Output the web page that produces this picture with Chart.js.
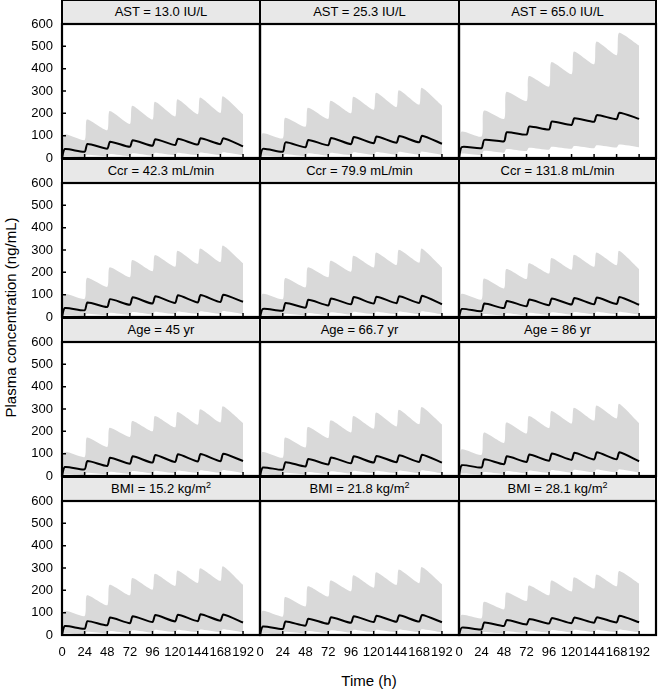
<!DOCTYPE html>
<html>
<head>
<meta charset="utf-8">
<script src="https://cdn.jsdelivr.net/npm/chart.js@4.4.0/dist/chart.umd.min.js"></script>
<style>
  body { margin: 0; background: #fff; }
  #wrap { position: relative; width: 658px; height: 691px; font-family: "Liberation Sans", Arial, sans-serif; color: #000; overflow: hidden; }
  .strip { position: absolute; box-sizing: border-box; height: 26px; border: 2px solid #000; background: #e8e8e8;
           font-size: 13px; line-height: 21px; text-align: center; white-space: nowrap; }
  .strip sup { font-size: 9px; line-height: 0; }
  canvas { position: absolute; }
  .ytitle { position: absolute; width: 400px; left: -190px; top: 309px; text-align: center; font-size: 15px;
            transform: rotate(-90deg); white-space: nowrap; }
  .xtitle { position: absolute; width: 200px; left: 269px; top: 672px; text-align: center; font-size: 15px; }
</style>
</head>
<body>
<div id="wrap">
  <div class="ytitle">Plasma concentration (ng/mL)</div>
  <div class="xtitle">Time (h)</div>
</div>
<script>
// panel order: row by row, left to right
const panelTitles = [
  'AST = 13.0 IU/L', 'AST = 25.3 IU/L', 'AST = 65.0 IU/L',
  'Ccr = 42.3 mL/min', 'Ccr = 79.9 mL/min', 'Ccr = 131.8 mL/min',
  'Age = 45 yr', 'Age = 66.7 yr', 'Age = 86 yr',
  'BMI = 15.2 kg/m<sup>2</sup>', 'BMI = 21.8 kg/m<sup>2</sup>', 'BMI = 28.1 kg/m<sup>2</sup>'
];

const doseTimes = [0, 24, 48, 72, 96, 120, 144, 168];
const xTicks = [0, 24, 48, 72, 96, 120, 144, 168, 192];
const yTicks = [0, 100, 200, 300, 400, 500, 600];

// peak after each dose, and value just before the next dose (last one = 192 h)
const upperPeaks = [
  [105, 172, 210, 234, 252, 263, 271, 277],
  [110, 180, 225, 256, 274, 292, 303, 314],
  [118, 212, 296, 367, 429, 477, 521, 560],
  [102, 175, 222, 255, 277, 297, 307, 320],
  [103, 174, 222, 252, 274, 289, 301, 307],
  [103, 172, 215, 241, 264, 279, 289, 297],
  [107, 172, 216, 246, 269, 287, 299, 312],
  [107, 172, 219, 249, 269, 284, 297, 309],
  [119, 194, 239, 269, 291, 306, 316, 324],
  [107, 178, 225, 255, 274, 289, 299, 308],
  [107, 170, 218, 244, 267, 281, 293, 304],
  [89, 148, 190, 222, 244, 259, 271, 286]
];
const upperTroughs = [
  [80, 124, 152, 172, 186, 196, 202, 196],
  [88, 140, 175, 200, 216, 228, 238, 234],
  [96, 175, 255, 320, 375, 420, 460, 503],
  [82, 135, 178, 205, 225, 238, 246, 240],
  [80, 133, 178, 203, 222, 233, 243, 222],
  [78, 128, 170, 195, 212, 225, 232, 215],
  [85, 130, 175, 200, 218, 230, 240, 237],
  [82, 128, 170, 195, 212, 222, 232, 231],
  [95, 148, 190, 215, 235, 248, 258, 237],
  [85, 133, 178, 203, 220, 233, 242, 225],
  [83, 128, 172, 196, 212, 224, 232, 227],
  [75, 115, 152, 178, 195, 208, 218, 230]
];
const medianPeaks = [
  [40, 63, 73, 80, 84, 86, 88, 88],
  [41, 70, 81, 90, 94, 96, 98, 100],
  [49, 81, 115, 141, 163, 178, 192, 203],
  [40, 65, 80, 88, 93, 97, 98, 100],
  [36, 63, 77, 83, 89, 91, 93, 95],
  [36, 60, 72, 78, 83, 85, 87, 90],
  [40, 67, 82, 88, 94, 97, 98, 100],
  [38, 62, 76, 83, 88, 90, 93, 95],
  [48, 75, 88, 96, 101, 104, 106, 106],
  [40, 62, 78, 84, 89, 91, 93, 92],
  [38, 60, 73, 80, 84, 86, 88, 90],
  [33, 56, 67, 72, 76, 78, 80, 86]
];
const medianTroughs = [
  [28, 42, 50, 55, 58, 60, 62, 52],
  [28, 48, 57, 62, 66, 68, 70, 64],
  [44, 75, 105, 128, 148, 162, 174, 175],
  [30, 45, 55, 60, 63, 65, 67, 68],
  [28, 42, 52, 57, 60, 62, 63, 57],
  [26, 40, 48, 53, 56, 57, 58, 55],
  [30, 45, 55, 60, 63, 65, 66, 67],
  [28, 43, 52, 57, 60, 62, 63, 60],
  [38, 53, 63, 68, 72, 74, 75, 66],
  [28, 44, 53, 58, 61, 62, 64, 56],
  [27, 42, 50, 55, 58, 59, 60, 57],
  [25, 40, 47, 51, 53, 55, 56, 57]
];
const lowerPeaks = [
  [8, 14, 18, 21, 23, 24, 25, 26],
  [10, 17, 21, 24, 26, 27, 28, 29],
  [20, 32, 40, 46, 50, 54, 57, 60],
  [9, 15, 19, 22, 24, 25, 26, 27],
  [8, 14, 18, 21, 23, 24, 25, 26],
  [7, 13, 17, 19, 21, 22, 23, 24],
  [9, 15, 19, 22, 24, 25, 26, 27],
  [8, 14, 18, 21, 23, 24, 25, 26],
  [11, 18, 22, 25, 27, 28, 29, 30],
  [8, 14, 18, 21, 23, 24, 25, 26],
  [8, 14, 18, 21, 23, 24, 25, 26],
  [7, 13, 17, 20, 22, 23, 24, 25]
];
const lowerTroughs = [
  [4, 7, 9, 11, 12, 13, 13, 12],
  [5, 9, 11, 13, 14, 15, 15, 14],
  [14, 24, 31, 37, 41, 44, 47, 48],
  [5, 8, 10, 12, 13, 14, 14, 13],
  [4, 7, 9, 11, 12, 13, 13, 12],
  [3, 6, 8, 10, 11, 12, 12, 11],
  [5, 8, 10, 12, 13, 14, 14, 13],
  [4, 7, 9, 11, 12, 13, 13, 12],
  [6, 10, 12, 14, 15, 16, 16, 15],
  [4, 7, 9, 11, 12, 13, 13, 12],
  [4, 7, 9, 11, 12, 13, 13, 12],
  [4, 7, 9, 11, 12, 13, 13, 12]
];

const colEdges = [62, 260, 459, 656];
const plotTops = [24, 183, 342, 501];
const plotH = 134;
const pad = 10;
const tickFont = { family: '"Liberation Sans", Arial, sans-serif', size: 13 };

function buildSeries(peaks, troughs, lag) {
  const pts = [{ x: 0, y: 0 }];
  doseTimes.forEach((t, k) => {
    pts.push({ x: t + lag, y: peaks[k] });
    pts.push({ x: t + 24, y: troughs[k] });
  });
  return pts;
}

const framePlugin = {
  id: 'frame',
  afterDraw(chart, args, opts) {
    const { ctx, chartArea: a, scales: { x, y } } = chart;
    ctx.save();
    ctx.strokeStyle = '#000';
    ctx.lineWidth = 1.5;
    ctx.beginPath();
    x.ticks.forEach(t => {
      const px = x.getPixelForValue(t.value);
      ctx.moveTo(px, a.bottom);
      ctx.lineTo(px, a.bottom - 4);
    });
    if (opts.yTicks) {
      y.ticks.forEach(t => {
        const py = y.getPixelForValue(t.value);
        ctx.moveTo(a.left, py);
        ctx.lineTo(a.left + 4, py);
      });
    }
    ctx.stroke();
    ctx.lineWidth = 2.2;
    ctx.strokeRect(a.left, a.top, a.width, a.height);
    ctx.restore();
  }
};

const wrap = document.getElementById('wrap');

panelTitles.forEach((title, i) => {
  const r = Math.floor(i / 3), c = i % 3;
  const left = colEdges[c], w = colEdges[c + 1] - colEdges[c];
  const bottomRow = r === 3, leftCol = c === 0;

  // strip header
  const strip = document.createElement('div');
  strip.className = 'strip';
  strip.style.left = (left - 1) + 'px';
  strip.style.top = (plotTops[r] - 25) + 'px';
  strip.style.width = (w + 2) + 'px';
  strip.innerHTML = title;
  wrap.appendChild(strip);

  const cv = document.createElement('canvas');
  const cl = leftCol ? 0 : left - pad;
  const cw = (leftCol ? left : pad) + w + pad;
  const ch = pad + plotH + (bottomRow ? 34 : pad);
  cv.width = cw; cv.height = ch;
  cv.style.left = cl + 'px';
  cv.style.top = (plotTops[r] - pad) + 'px';
  cv.style.width = cw + 'px';
  cv.style.height = ch + 'px';
  wrap.appendChild(cv);

  new Chart(cv, {
    type: 'line',
    data: {
      datasets: [{
        data: buildSeries(medianPeaks[i], medianTroughs[i], 3),
        borderColor: '#000',
        borderWidth: 2,
        pointRadius: 0,
        tension: 0.2,
        fill: false
      }, {
        data: buildSeries(upperPeaks[i], upperTroughs[i], 2.5),
        borderWidth: 0,
        borderColor: 'rgba(0,0,0,0)',
        backgroundColor: '#d9d9d9',
        pointRadius: 0,
        tension: 0.2,
        fill: '+1'
      }, {
        data: buildSeries(lowerPeaks[i], lowerTroughs[i], 2.5),
        borderWidth: 0,
        borderColor: 'rgba(0,0,0,0)',
        pointRadius: 0,
        tension: 0.2,
        fill: false
      }]
    },
    options: {
      responsive: false,
      animation: false,
      events: [],
      layout: { padding: { left: leftCol ? 0 : pad, right: pad, top: pad, bottom: bottomRow ? 0 : pad } },
      plugins: { legend: { display: false }, tooltip: { enabled: false }, frame: { yTicks: leftCol } },
      scales: {
        x: {
          type: 'linear', min: 0, max: 210,
          afterBuildTicks: s => { s.ticks = xTicks.map(v => ({ value: v })); },
          afterFit: s => { s.height = bottomRow ? 34 : 0; },
          grid: { display: false, drawTicks: true, tickLength: 10 },
          border: { display: false },
          ticks: { display: bottomRow, color: '#000', font: tickFont, padding: 0, maxRotation: 0, autoSkip: false }
        },
        y: {
          type: 'linear', min: 0, max: 600,
          afterBuildTicks: s => { s.ticks = yTicks.map(v => ({ value: v })); },
          afterFit: s => { s.width = leftCol ? 62 : 0; },
          grid: { display: false, drawTicks: true, tickLength: 9 },
          border: { display: false },
          ticks: { display: leftCol, color: '#000', font: tickFont, padding: 0 }
        }
      }
    },
    plugins: [framePlugin]
  });
});
</script>
</body>
</html>
